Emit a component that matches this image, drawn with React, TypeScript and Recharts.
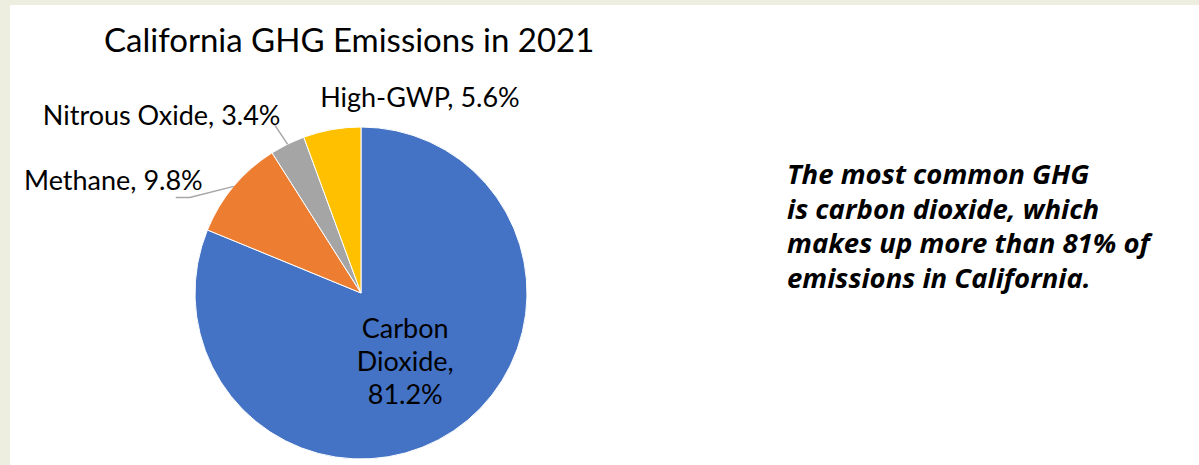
import { PieChart, Pie, Cell } from "recharts"

const gasNames = ["Carbon Dioxide", "Methane", "Nitrous Oxide", "High-GWP"]
const gasShares = [81.2, 9.8, 3.4, 5.6]
const gasColors = ["#4472C4", "#ED7D31", "#A5A5A5", "#FFC000"]

const data = gasNames.map((name, i) => ({ name, value: gasShares[i] }))

const RADIAN = Math.PI / 180
const labelFont = "Lato, 'Noto Sans', sans-serif"

// label placement relative to the point on the rim at each slice's mid angle
const outside: Record<string, { tx: number; ty: number; anchor: string; line?: number[][] }> = {
  Methane: { tx: -31, ty: -7, anchor: "end", line: [[0, 0], [-44, 11], [-58, 11]] },
  "Nitrous Oxide": { tx: -7, ty: -30, anchor: "end", line: [[0, 0], [-14, -21]] },
  "High-GWP": { tx: 88, ty: -33, anchor: "middle" },
}

function renderLabel(props: any) {
  const { cx, cy, midAngle, outerRadius, name, value } = props
  const cos = Math.cos(-midAngle * RADIAN)
  const sin = Math.sin(-midAngle * RADIAN)
  const text = `${name}, ${value.toFixed(1)}%`
  const cfg = outside[name]
  if (!cfg) {
    const r = outerRadius * 0.5
    const x = cx + r * cos - 2
    const y = cy + r * sin
    return (
      <text x={x} y={y} textAnchor="middle" fill="#000" fontSize={27} fontFamily={labelFont}>
        <tspan x={x} dy={-24}>Carbon</tspan>
        <tspan x={x} dy={33}>Dioxide,</tspan>
        <tspan x={x} dy={33}>{`${value.toFixed(1)}%`}</tspan>
      </text>
    )
  }
  const ex = cx + outerRadius * cos
  const ey = cy + outerRadius * sin
  return (
    <g>
      {cfg.line && (
        <polyline
          points={cfg.line.map(([dx, dy]) => `${ex + dx},${ey + dy}`).join(" ")}
          fill="none"
          stroke="#A6A6A6"
          strokeWidth={1.5}
        />
      )}
      <text
        x={ex + cfg.tx}
        y={ey + cfg.ty}
        textAnchor={cfg.anchor as any}
        dominantBaseline="central"
        fill="#000"
        fontSize={27}
        fontFamily={labelFont}
      >
        {text}
      </text>
    </g>
  )
}

export default function App() {
  return (
    <div style={{ position: "absolute", left: 0, top: 0, width: 1199, height: 465, background: "#EEEEE0", overflow: "hidden" }}>
      <div style={{ position: "absolute", left: 10, top: 5, width: 1189, height: 460, background: "#fff" }} />
      <div
        style={{
          position: "absolute",
          left: 104,
          top: 19,
          fontFamily: labelFont,
          fontSize: 33,
          lineHeight: "40px",
          color: "#000",
          whiteSpace: "nowrap",
        }}
      >
        California GHG Emissions in 2021
      </div>
      <div
        style={{
          position: "absolute",
          left: 787,
          top: 157,
          fontFamily: "'Open Sans', sans-serif",
          fontStyle: "italic",
          fontWeight: 700,
          fontSize: 27.5,
          lineHeight: "34.5px",
          color: "#000",
          whiteSpace: "nowrap",
        }}
      >
        The most common GHG
        <br />
        is carbon dioxide, which
        <br />
        makes up more than 81% of
        <br />
        emissions in California.
      </div>
      <div style={{ position: "absolute", left: 0, top: 0 }}>
        <PieChart width={1199} height={465} margin={{ top: 0, right: 0, bottom: 0, left: 0 }}>
          <Pie
            data={data}
            dataKey="value"
            nameKey="name"
            cx={361}
            cy={293}
            outerRadius={166}
            startAngle={90}
            endAngle={-270}
            stroke="#fff"
            strokeWidth={1}
            labelLine={false}
            label={renderLabel}
            isAnimationActive={false}
          >
            {data.map((entry, index) => (
              <Cell key={`cell-${index}`} fill={gasColors[index]} />
            ))}
          </Pie>
        </PieChart>
      </div>
    </div>
  )
}
